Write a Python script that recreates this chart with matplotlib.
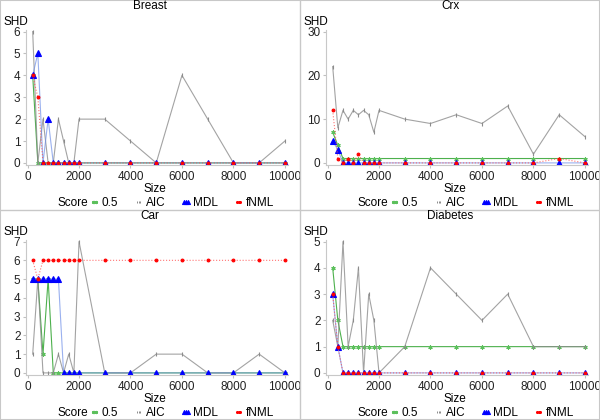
import matplotlib
matplotlib.use("Agg")
import matplotlib.pyplot as plt
from matplotlib.lines import Line2D

plt.rcParams['font.family'] = ['Liberation Sans', 'DejaVu Sans']

# sample sizes shared by all panels
sizes = [200, 400, 600, 800, 1000, 1200, 1400, 1600, 1800, 2000,
         3000, 4000, 5000, 6000, 7000, 8000, 9000, 10000]

panel_names = ['Breast', 'Crx', 'Car', 'Diabetes']
panel_ymax = [6, 30, 7, 5]
panel_yticks = [[0, 1, 2, 3, 4, 5, 6], [0, 10, 20, 30],
                [0, 1, 2, 3, 4, 5, 6, 7], [0, 1, 2, 3, 4, 5]]

# SHD per score
breast_05 = [4, 0, 0, 0, 0, 0, 0, 0, 0, 0, 0, 0, 0, 0, 0, 0, 0, 0]
breast_aic = [6, 0, 2, 0, 0, 2, 1, 0, 0, 2, 2, 1, 0, 4, 2, 0, 0, 1]
breast_mdl = [4, 5, 0, 2, 0, 0, 0, 0, 0, 0, 0, 0, 0, 0, 0, 0, 0, 0]
breast_fnml = [4, 3, 0, 0, 0, 0, 0, 0, 0, 0, 0, 0, 0, 0, 0, 0, 0, 0]

crx_05 = [7, 4, 1, 1, 1, 1, 1, 1, 1, 1, 1, 1, 1, 1, 1, 1, 1, 1]
crx_aic = [22, 8, 12, 10, 12, 11, 12, 11, 7, 12, 10, 9, 11, 9, 13, 2, 11, 6]
crx_mdl = [5, 3, 0, 0, 0, 0, 0, 0, 0, 0, 0, 0, 0, 0, 0, 0, 0, 0]
crx_fnml = [12, 1, 0, 1, 0, 2, 0, 0, 0, 0, 0, 0, 0, 0, 0, 0, 1, 0]

car_05 = [5, 5, 1, 5, 0, 0, 0, 0, 0, 0, 0, 0, 0, 0, 0, 0, 0, 0]
car_aic = [1, 5, 0, 0, 0, 1, 0, 1, 0, 7, 0, 0, 1, 1, 0, 0, 1, 0]
car_mdl = [5, 5, 5, 5, 5, 5, 0, 0, 0, 0, 0, 0, 0, 0, 0, 0, 0, 0]
car_fnml = [6, 5, 6, 6, 6, 6, 6, 6, 6, 6, 6, 6, 6, 6, 6, 6, 6, 6]

diab_05 = [4, 2, 1, 1, 1, 1, 1, 1, 1, 1, 1, 1, 1, 1, 1, 1, 1, 1]
diab_aic = [2, 1, 5, 1, 2, 4, 0, 3, 2, 0, 1, 4, 3, 2, 3, 1, 1, 1]
diab_mdl = [3, 1, 0, 0, 0, 0, 0, 0, 0, 0, 0, 0, 0, 0, 0, 0, 0, 0]
diab_fnml = [3, 1, 0, 0, 0, 0, 0, 0, 0, 0, 0, 0, 0, 0, 0, 0, 0, 0]

panel_data = [
    (breast_05, breast_aic, breast_mdl, breast_fnml),
    (crx_05, crx_aic, crx_mdl, crx_fnml),
    (car_05, car_aic, car_mdl, car_fnml),
    (diab_05, diab_aic, diab_mdl, diab_fnml),
]

score_labels = ['0.5', 'AIC', 'MDL', 'fNML']
# (line color, line style, marker, marker color, marker size, line alpha)
styles = [
    ('#3aa83a', '-', (6, 2, 0), '#5cc05c', 3, 0.9),
    ('#8c8c8c', '-', '|', '#8c8c8c', 2.5, 0.8),
    ('#6f8fe8', '-', '^', '#0000ff', 4, 0.7),
    ('#ff5050', ':', 'o', '#ff0000', 2, 0.8),
]

fig = plt.figure(figsize=(6, 4.2), dpi=100)

W, H = 600.0, 420.0
for i, name in enumerate(panel_names):
    col, row = i % 2, i // 2
    ox, oy = col * 300, row * 210   # panel offset in pixels (top-left)

    ax = fig.add_axes([(ox + 26) / W, 1 - (oy + 165) / H, 262 / W, 135 / H])
    ymax = panel_ymax[i]
    for series, (lc, ls, mk, mc, ms, la) in zip(panel_data[i], styles):
        ax.plot(sizes, series, color=lc, linestyle=ls, lw=0.8, alpha=la)
        ax.plot(sizes, series, linestyle='none', marker=mk, color=mc,
                markersize=ms, markeredgewidth=0.8)
    ax.set_xlim(-60, 10120)
    ax.set_ylim(-ymax * 0.016, ymax * 1.012)
    ax.set_xticks([0, 2000, 4000, 6000, 8000, 10000])
    ax.set_yticks(panel_yticks[i])
    ax.tick_params(labelsize=8.5, length=2, color='#c0c0c0', colors='#222222',
                   pad=2)
    ax.tick_params(axis='both', color='#c0c0c0')
    for s in ('top', 'right'):
        ax.spines[s].set_visible(False)
    for s in ('left', 'bottom'):
        ax.spines[s].set_color('#c8c8c8')
        ax.spines[s].set_linewidth(0.8)
    ax.set_facecolor('none')

    fig.text((ox + 150) / W, 1 - (oy + 6) / H, name, ha='center',
             va='center', fontsize=8.5)
    fig.text((ox + 3) / W, 1 - (oy + 22) / H, 'SHD', ha='left',
             va='center', fontsize=8.5)
    fig.text((ox + 155) / W, 1 - (oy + 189) / H, 'Size', ha='center',
             va='center', fontsize=8.5)

    # legend row: "Score" then the four entries
    fig.text((ox + 58) / W, 1 - (oy + 203) / H, 'Score', ha='left',
             va='center', fontsize=8.5)
    handles = [Line2D([0], [0], color=mc, linestyle='none', marker=mk,
                      markersize=ms * 0.75, markeredgewidth=0.7)
               for (lc, ls, mk, mc, ms, la) in styles]
    fig.legend(handles, score_labels, loc='center left',
               bbox_to_anchor=((ox + 89) / W, 1 - (oy + 203) / H),
               ncol=4, frameon=False, fontsize=8.5, handlelength=0.9,
               handletextpad=0.15, columnspacing=1.3, numpoints=3,
               borderpad=0, borderaxespad=0)

# panel borders
grey = '#c8c8c8'
fig.add_artist(Line2D([0.5, 0.5], [0, 1], color=grey, lw=1))
fig.add_artist(Line2D([0, 1], [0.5, 0.5], color=grey, lw=1))
fig.add_artist(Line2D([0, 1, 1, 0, 0], [0, 0, 1, 1, 0], color=grey, lw=1.5))

fig.savefig('out.png', dpi=100)
